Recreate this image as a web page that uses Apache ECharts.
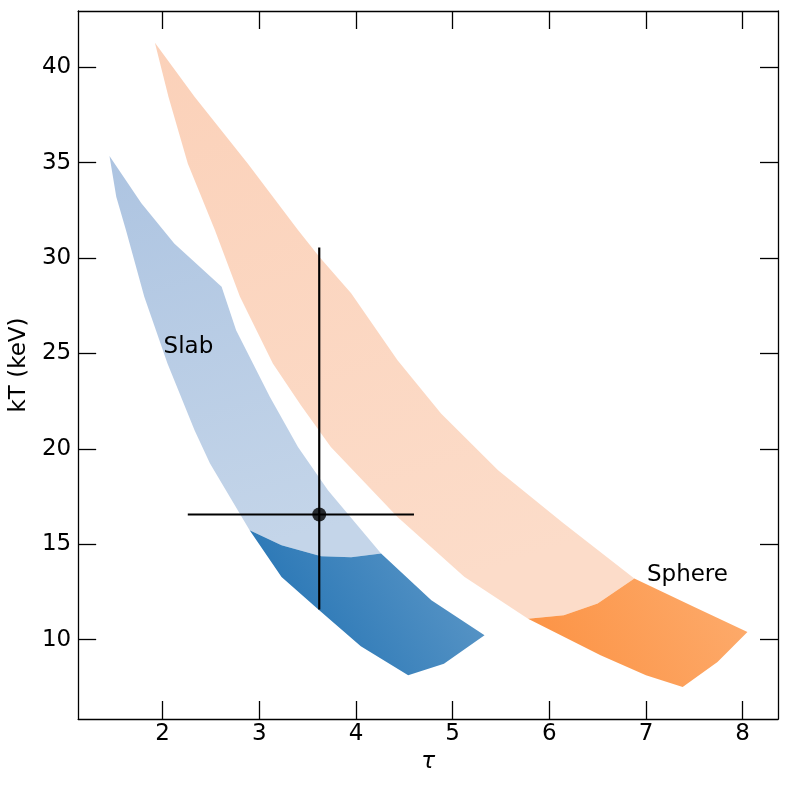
<!DOCTYPE html>
<html>
<head>
<meta charset="utf-8">
<script src="https://cdn.jsdelivr.net/npm/echarts@6/dist/echarts.min.js"></script>
<style>
  html, body { margin: 0; padding: 0; background: #fff; }
  #myChart { width: 789px; height: 789px; }
</style>
</head>
<body>
<div id="myChart"></div>
<script>
// axis ticks
var tauTicks = [2, 3, 4, 5, 6, 7, 8];
var kTTicks = [10, 15, 20, 25, 30, 35, 40];

// slab region, pale (upper) and dark (lower) part, [tau, kT]
var slabLight = [
  [1.45, 35.35], [1.78, 32.87], [2.12, 30.77], [2.61, 28.49], [2.76, 26.22],
  [3.11, 22.72], [3.40, 20.10], [3.71, 17.83], [4.26, 14.51],
  [3.95, 14.32], [3.64, 14.37], [3.23, 14.95], [2.90, 15.73],
  [2.49, 19.23], [2.33, 20.98], [2.05, 24.48], [1.81, 27.97], [1.62, 31.47], [1.52, 33.21]
];
var slabDark = [
  [2.90, 15.73], [3.23, 14.95], [3.64, 14.37], [3.95, 14.32], [4.26, 14.51],
  [4.78, 12.06], [5.33, 10.23], [4.91, 8.74], [4.54, 8.13],
  [4.05, 9.65], [3.62, 11.54], [3.23, 13.28]
];

// sphere region
var sphereLight = [
  [1.92, 41.29], [2.33, 38.46], [2.88, 34.96], [3.40, 31.47], [3.62, 30.07], [3.95, 28.15],
  [4.43, 24.65], [4.88, 21.85], [5.47, 18.88], [6.15, 16.09], [6.88, 13.20],
  [6.50, 11.89], [6.15, 11.28], [5.78, 11.10],
  [5.12, 13.29], [4.43, 16.43], [3.74, 20.10], [3.43, 22.29], [3.14, 24.48], [2.80, 27.97],
  [2.54, 31.47], [2.26, 34.96], [2.06, 38.46]
];
var sphereDark = [
  [5.78, 11.10], [6.15, 11.28], [6.50, 11.89], [6.88, 13.20], [7.50, 11.71],
  [8.05, 10.40], [7.74, 8.83], [7.38, 7.52], [7.00, 8.13], [6.53, 9.18]
];

// measured point with errors
var pointTau = 3.62;
var pointKT = 16.56;
var tauRange = [2.26, 4.60];
var kTRange = [11.58, 30.56];

// region labels
var regionLabels = [
  { name: 'Slab', tau: 2.01, kT: 25.35 },
  { name: 'Sphere', tau: 7.01, kT: 13.40 }
];

var FONT = 'DejaVu Sans';
var FS = 23;
var myChart = echarts.init(document.getElementById('myChart'));

function grad(x0, y0, x1, y1, c0, c1) {
  return new echarts.graphic.LinearGradient(x0, y0, x1, y1, [
    { offset: 0, color: c0 }, { offset: 1, color: c1 }
  ]);
}

function region(pts, fill, z) {
  return {
    type: 'custom',
    coordinateSystem: 'cartesian2d',
    data: pts,
    encode: { x: 0, y: 1 },
    silent: true,
    z: z,
    renderItem: function (params, api) {
      if (params.dataIndex !== 0) return;
      var points = pts.map(function (p) { return api.coord(p); });
      return { type: 'polygon', shape: { points: points }, style: { fill: fill } };
    }
  };
}

function makeAxis(pos, min, max, ticks, isX) {
  return {
    type: 'value',
    position: pos,
    min: min,
    max: max,
    axisLine: { show: true, onZero: false, lineStyle: { color: '#000', width: 1.3 } },
    axisTick: { show: true, inside: true, length: 18, customValues: ticks, lineStyle: { color: '#000', width: 1.3 } },
    axisLabel: {
      show: pos === 'bottom' || pos === 'left',
      customValues: ticks,
      margin: isX ? 4 : 7,
      color: '#000',
      fontFamily: FONT,
      fontSize: FS
    },
    splitLine: { show: false }
  };
}

var xBottom = makeAxis('bottom', 1.126, 8.366, tauTicks, true);
xBottom.name = 'τ';
xBottom.nameLocation = 'middle';
xBottom.nameGap = 29;
xBottom.nameTextStyle = { color: '#000', fontFamily: FONT, fontSize: FS, fontStyle: 'italic' };

var yLeft = makeAxis('left', 5.84, 42.95, kTTicks, false);
yLeft.name = 'kT (keV)';
yLeft.nameLocation = 'middle';
yLeft.nameGap = 47;
yLeft.nameRotate = 90;
yLeft.nameTextStyle = { color: '#000', fontFamily: FONT, fontSize: FS };

var option = {
  animation: false,
  backgroundColor: '#fff',
  grid: { left: 77, top: 11, right: 11, bottom: 70, containLabel: false },
  xAxis: [xBottom, makeAxis('top', 1.126, 8.366, tauTicks, true)],
  yAxis: [yLeft, makeAxis('right', 5.84, 42.95, kTTicks, false)],
  series: [
    region(slabLight, grad(0, 0, 0.4, 1, '#adc4e1', '#c4d5e9'), 1),
    region(slabDark, grad(0.2, 1, 1, 0.2, '#2574b4', '#5f99c8'), 2),
    region(sphereLight, grad(0, 0, 0.4, 1, '#fbd1b9', '#fcdcc9'), 1),
    region(sphereDark, grad(0.2, 1, 1, 0.2, '#fc9548', '#fdab6c'), 2),
    {
      type: 'custom',
      coordinateSystem: 'cartesian2d',
      data: [[pointTau, pointKT]],
      silent: true,
      z: 5,
      renderItem: function (params, api) {
        var l = api.coord([tauRange[0], pointKT]);
        var r = api.coord([tauRange[1], pointKT]);
        var t = api.coord([pointTau, kTRange[1]]);
        var b = api.coord([pointTau, kTRange[0]]);
        var ls = { stroke: '#000', lineWidth: 2.2 };
        return {
          type: 'group',
          children: [
            { type: 'line', shape: { x1: l[0], y1: l[1], x2: r[0], y2: r[1] }, style: ls },
            { type: 'line', shape: { x1: t[0], y1: t[1], x2: b[0], y2: b[1] }, style: ls }
          ]
        };
      }
    },
    {
      type: 'scatter',
      data: [[pointTau, pointKT]],
      symbol: 'circle',
      symbolSize: 14,
      itemStyle: { color: '#000' },
      silent: true,
      z: 6
    },
    {
      type: 'custom',
      coordinateSystem: 'cartesian2d',
      data: regionLabels.map(function (d) { return [d.tau, d.kT]; }),
      silent: true,
      z: 7,
      renderItem: function (params, api) {
        var p = api.coord([api.value(0), api.value(1)]);
        return {
          type: 'text',
          style: {
            text: regionLabels[params.dataIndex].name,
            x: p[0], y: p[1],
            textAlign: 'left', textVerticalAlign: 'middle',
            fill: '#000', font: FS + 'px "DejaVu Sans"'
          }
        };
      }
    }
  ]
};
myChart.setOption(option);
</script>
</body>
</html>
